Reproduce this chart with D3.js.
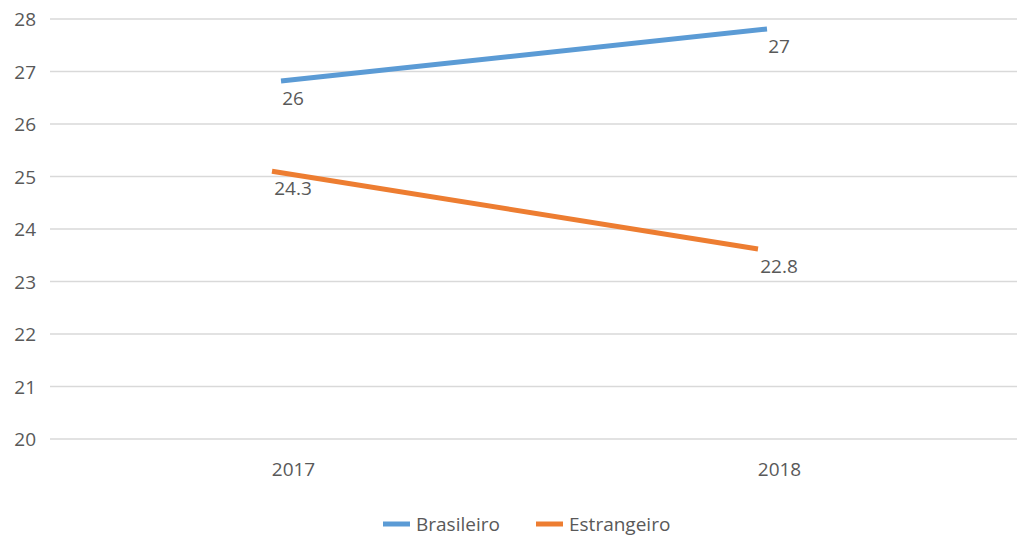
<!DOCTYPE html>
<html><head><meta charset="utf-8">
<script src="https://cdn.jsdelivr.net/npm/d3@7"></script>
<style>body{margin:0;background:#fff}svg{display:block}text{font-family:"Open Sans",sans-serif;fill:#595959}</style>
</head><body>
<svg id="c" width="1017" height="536"></svg>
<script>
const categories = ["2017", "2018"];
const seriesNames = ["Brasileiro", "Estrangeiro"];
const brasileiro = [26.82, 27.81];
const estrangeiro = [25.1, 23.62];
const brasileiroLabels = ["26", "27"];
const estrangeiroLabels = ["24.3", "22.8"];
const yTicks = [20, 21, 22, 23, 24, 25, 26, 27, 28];
const colors = ["#5B9BD5", "#ED7D31"];

const svg = d3.select("#c");
const W = 1017, H = 536;
const m = {left: 50, right: -5, top: 19, bottom: 97};
const x = d3.scalePoint().domain(categories).range([m.left, W - m.right]).padding(0.5);
const y = d3.scaleLinear().domain([20, 28]).range([H - m.bottom, m.top]);
const fs = "19px";

svg.append("g").selectAll("line").data(yTicks).join("line")
  .attr("x1", m.left).attr("x2", W).attr("y1", d => y(d)).attr("y2", d => y(d))
  .attr("stroke", "#d9d9d9").attr("stroke-width", 1.5);

const ya = svg.append("g").attr("transform", `translate(${m.left - 14},0)`)
  .call(d3.axisLeft(y).tickValues(yTicks).tickSize(0).tickFormat(d3.format("d")));
ya.select(".domain").remove();
ya.selectAll("text").style("font-size", fs).attr("fill", "#595959").attr("dy", "0.35em").attr("x", 0);

const xa = svg.append("g").attr("transform", `translate(0,${H - m.bottom + 20})`)
  .call(d3.axisBottom(x).tickSize(0));
xa.select(".domain").remove();
xa.selectAll("text").style("font-size", fs).attr("fill", "#595959").attr("dy", "0.71em");

const series = [
  {name: seriesNames[0], values: brasileiro, labels: brasileiroLabels, color: colors[0], shift: -12},
  {name: seriesNames[1], values: estrangeiro, labels: estrangeiroLabels, color: colors[1], shift: -21}
];
const line = d3.line().x((d, i) => x(categories[i])).y(d => y(d));
series.forEach(s => {
  const g = svg.append("g");
  g.append("path").datum(s.values).attr("d", line)
    .attr("transform", `translate(${s.shift},0)`)
    .attr("fill", "none").attr("stroke", s.color).attr("stroke-width", 5).attr("stroke-linecap", "butt");
  g.selectAll("text").data(s.values).join("text")
    .attr("x", (d, i) => x(categories[i]))
    .attr("y", d => y(d) + 24)
    .attr("text-anchor", "middle").style("font-size", fs).attr("fill", "#404040")
    .text((d, i) => s.labels[i]);
});

const legendX = [383, 536];
const lg = svg.append("g");
series.forEach((s, i) => {
  lg.append("line").attr("x1", legendX[i]).attr("x2", legendX[i] + 27)
    .attr("y1", 524).attr("y2", 524).attr("stroke", s.color).attr("stroke-width", 5);
  lg.append("text").attr("x", legendX[i] + 33).attr("y", 524).attr("dy", "0.35em")
    .style("font-size", fs).attr("fill", "#595959").text(s.name);
});
</script>
</body></html>
